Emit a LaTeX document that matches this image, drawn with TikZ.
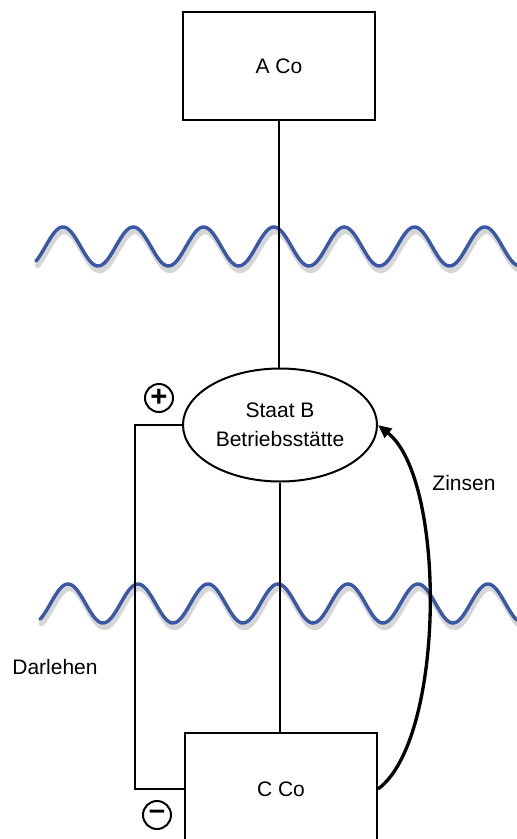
\documentclass[tikz,border=0pt]{standalone}
\usepackage{fontspec}
\setmainfont{Liberation Sans}
\usepackage{tikz}
\usetikzlibrary{arrows.meta}
\usetikzlibrary{shapes.geometric}

\tikzset{
    company/.style={draw, line width=1.5pt, minimum width=144pt, inner sep=0pt, font=\fontsize{15.75}{20}\selectfont},
    branch/.style={draw, ellipse, line width=1.5pt, minimum width=145.5pt, minimum height=84.75pt, inner sep=0pt, align=center, font=\fontsize{15.75}{20.5}\selectfont},
    label/.style={inner sep=0.75pt, font=\fontsize{15.75}{20}\selectfont},
    sign/.style={draw, circle, line width=1.5pt, minimum size=21pt, inner sep=0pt, font=\fontsize{22}{22}\selectfont\bfseries},
    link/.style={line width=1.6pt},
    border/.style={draw={rgb,255:red,58;green,88;blue,165}, line width=2.6pt, line cap=round},
    bordershadow/.style={draw=black, draw opacity=0.16, line width=4pt, line cap=round}
}

\begin{document}
\begin{tikzpicture}[x=0.75pt,y=0.75pt,yscale=-1,xscale=1]
    \useasboundingbox (0,0) rectangle (517,839);
    \clip (0,0) rectangle (517,839);

    %Shape: Wave (border A / B), 360/70.3 = 5.121 deg per px
    \draw [bordershadow] plot[domain=36:517, samples=300] ({\x+1.5}, {251 - 19.5*cos(5.121*(\x-63))});
    \draw [border] plot[domain=36:517, samples=300] (\x, {246.5 - 19.5*cos(5.121*(\x-63))});
    %Shape: Wave (border B / C), 360/70 = 5.143 deg per px
    \draw [bordershadow] plot[domain=40:517, samples=300] ({\x+1.5}, {608 - 19.5*cos(5.143*(\x-68))});
    \draw [border] plot[domain=40:517, samples=300] (\x, {603.5 - 19.5*cos(5.143*(\x-68))});

    % Company nodes
    \node [company, minimum height=81pt] (aco) at (279,66) {A Co};
    \node [branch, font=\fontsize{15.75}{21.5}\selectfont] (pe) at (280,425) {Staat B\\Betriebsstätte};
    \node [company, minimum height=84pt] (cco) at (281,789) {C Co};

    % Text Node
    \node [label] (zinsen) at (464,483) {Zinsen};
    % Text Node
    \node [label] (darlehen) at (55,667) {Darlehen};
    % Signs
    \node [sign] (plus) at (159,398) {+};
    \node [sign] (minus) at (157,815) {–};

    % Connectors
    \coordinate (loanleft) at (135,600);
    \draw [link] (aco.south) -- (aco.south |- pe.north);
    \draw [link] (pe.south) -- (pe.south |- cco.north);
    \draw [link] (pe.west) -- (pe.west -| loanleft) -- (loanleft |- cco.west) -- (cco.west);
    \draw [line width=2.5pt, -{Triangle[length=10pt,width=8.5pt]}] (cco.east) .. controls (445,740) and (447,480) .. (pe.east);

\end{tikzpicture}
\end{document}
